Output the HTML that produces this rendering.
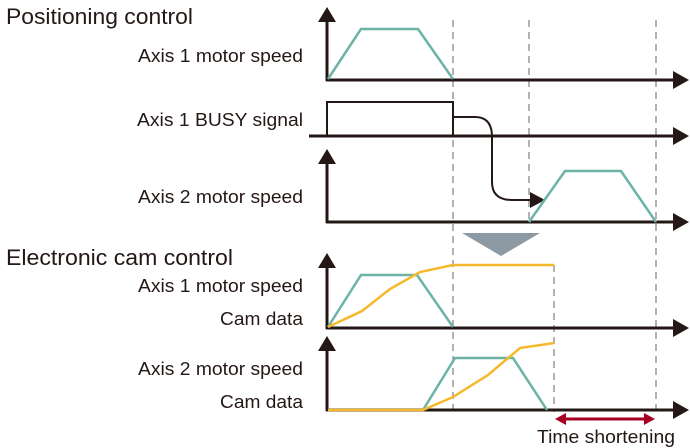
<!DOCTYPE html>
<html><head><style>body{margin:0;background:#fff}svg{display:block}</style></head><body>
<svg width="690" height="448" viewBox="0 0 690 448" xmlns="http://www.w3.org/2000/svg" font-family="Liberation Sans, sans-serif" fill="#231815">
<g font-size="22"><text x="6" y="24" textLength="187" lengthAdjust="spacingAndGlyphs">Positioning control</text><text x="6" y="265" textLength="227" lengthAdjust="spacingAndGlyphs">Electronic cam control</text></g>
<g font-size="18.5" text-anchor="end">
<text x="303" y="62" textLength="165" lengthAdjust="spacingAndGlyphs">Axis 1 motor speed</text>
<text x="303" y="126" textLength="166" lengthAdjust="spacingAndGlyphs">Axis 1 BUSY signal</text>
<text x="303" y="203" textLength="165" lengthAdjust="spacingAndGlyphs">Axis 2 motor speed</text>
<text x="303" y="292" textLength="165" lengthAdjust="spacingAndGlyphs">Axis 1 motor speed</text>
<text x="303" y="325" textLength="83" lengthAdjust="spacingAndGlyphs">Cam data</text>
<text x="303" y="375" textLength="165" lengthAdjust="spacingAndGlyphs">Axis 2 motor speed</text>
<text x="303" y="408" textLength="83" lengthAdjust="spacingAndGlyphs">Cam data</text>
</g>
<text x="537" y="443" font-size="18.5" textLength="138" lengthAdjust="spacingAndGlyphs">Time shortening</text>
<g stroke="#888" stroke-width="1.3" stroke-dasharray="7,5" fill="none">
<line x1="453" y1="20" x2="453" y2="412"/><line x1="529" y1="20" x2="529" y2="222"/><line x1="656" y1="20" x2="656" y2="412"/><line x1="554" y1="265" x2="554" y2="412"/>
</g>
<g stroke="#231815" stroke-width="3" fill="none">
<line x1="327" y1="20" x2="327" y2="81"/><line x1="326" y1="80" x2="676" y2="80"/>
<line x1="309" y1="136" x2="676" y2="136"/>
<line x1="327" y1="162" x2="327" y2="223"/><line x1="326" y1="222" x2="676" y2="222"/>
<line x1="327" y1="266" x2="327" y2="329"/><line x1="326" y1="328" x2="676" y2="328"/>
<line x1="327" y1="349" x2="327" y2="411"/><line x1="326" y1="410" x2="676" y2="410"/>
</g>
<g fill="#231815">
<polygon points="318,22 327,7 336,22"/><polygon points="318,164 327,149 336,164"/><polygon points="318,268 327,253 336,268"/><polygon points="318,351 327,336 336,351"/>
<polygon points="673,71 689,80 673,89"/><polygon points="673,127 689,136 673,145"/><polygon points="673,213 689,222 673,231"/><polygon points="673,319 689,328 673,337"/><polygon points="673,401 689,410 673,419"/>
<polygon points="530,192 545,200 530,208"/>
</g>
<path d="M327,136 V102 H453 V136" stroke="#231815" stroke-width="2" fill="none"/>
<path d="M453,117 H475 Q492,117 492,137 V182 Q492,200 512,200 H531" stroke="#231815" stroke-width="2" fill="none"/>
<g stroke="#6db3a5" stroke-width="2.5" fill="none">
<polyline points="328,79 361,29 418,29 453,79"/>
<polyline points="529,222 565,171 621,171 656,222"/>
<polyline points="328,327 361,275 417,275 453,327"/>
<polyline points="423,410 455,358 513,358 547,410"/>
</g>
<g stroke="#f6b92b" stroke-width="2.5" fill="none">
<polyline points="328,327 362,311 390,289 420,272 453,265 554,265"/>
<polyline points="328,410 423,410 453,397 488,375 520,348 554,343"/>
</g>
<polygon points="462,233 540,233 501,256" fill="#8e9aa3"/>
<line x1="564" y1="419" x2="646" y2="419" stroke="#a50021" stroke-width="3"/>
<polygon points="555,419 566,413 566,425" fill="#a50021"/><polygon points="655,419 644,413 644,425" fill="#a50021"/>
</svg>
</body></html>
